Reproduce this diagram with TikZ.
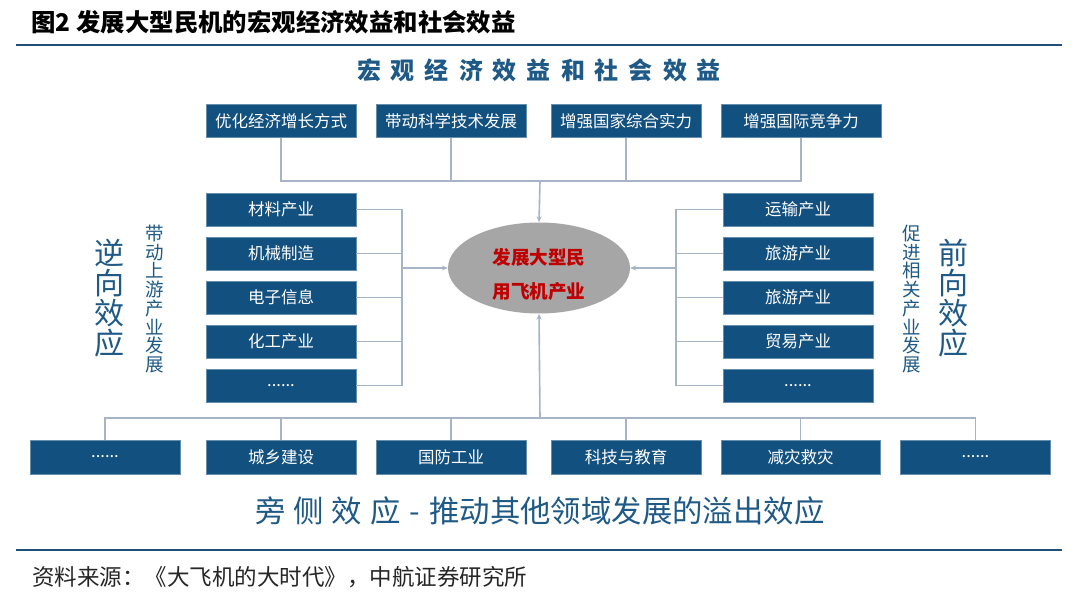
\documentclass[tikz,border=0pt]{standalone}
\usepackage{fontspec}
\usetikzlibrary{shapes.geometric,arrows.meta}
\newfontfamily\yh{Noto Sans CJK SC}
\newfontfamily\song{Noto Sans CJK SC}
\definecolor{boxblue}{HTML}{12507F}
\definecolor{txtblue}{HTML}{1F5A87}
\definecolor{conncol}{HTML}{A7B4C8}
\definecolor{rulecol}{HTML}{1F4E79}
\definecolor{ellgray}{HTML}{A6A6A6}
\definecolor{ellred}{HTML}{C00000}
\newcommand\ksp{\hspace{10pt}}
\begin{document}
\begin{tikzpicture}[x=1pt,y=-1pt,
  box/.style={fill=boxblue, draw=boxblue!65!white, line width=0.6pt, minimum height=33pt,
    minimum width=150pt, inner sep=0pt, text=white, font=\yh\fontsize{16.5}{18}\selectfont},
  link/.style={draw=conncol, line width=1.6pt},
  arr/.style={-{Stealth[length=6pt,width=5pt]}},
  vbig/.style={text=txtblue, align=center, inner sep=0pt, font=\yh\fontsize{30}{30}\selectfont},
  vsmall/.style={text=txtblue, align=center, inner sep=0pt, font=\yh\fontsize{18.5}{18.75}\selectfont},
  rulestyle/.style={draw=rulecol, line width=2pt}]
\useasboundingbox (0,0) rectangle (1080,596);
\fill[white] (0,0) rectangle (1080,596);

% title
\node[anchor=west, inner sep=0pt, font=\song\bfseries\fontsize{24.4}{26}\selectfont] (title) at (31,22) {图2\hspace{6pt}发展大型民机的宏观经济效益和社会效益};
\coordinate (ruleTL) at (16,45);
\coordinate (ruleTR) at (1062,45);
\draw[rulestyle] (ruleTL) -- (ruleTR);

% heading
\node[inner sep=0pt, text=txtblue, font=\yh\bfseries\fontsize{24}{26}\selectfont] (head) at (539,70)
  {宏\ksp 观\ksp 经\ksp 济\ksp 效\ksp 益\ksp 和\ksp 社\ksp 会\ksp 效\ksp 益};

% top boxes
\node[box] (t1) at (281,121) {优化经济增长方式};
\node[box] (t2) at (451,121) {带动科学技术发展};
\node[box] (t3) at (626,121) {增强国家综合实力};
\node[box, minimum width=160pt] (t4) at (801,121) {增强国际竞争力};

% ellipse
\node[ellipse, fill=ellgray, minimum width=182pt, minimum height=91pt, inner sep=0pt] (ell) at (539,268) {};
\node[align=center, text=ellred, inner sep=0pt, font=\yh\bfseries\fontsize{18.6}{34}\selectfont] (elltext) at (539,274) {发展大型民\\用飞机产业};

% left boxes
\node[box] (l1) at (281,209.5) {材料产业};
\node[box] (l2) at (281,253.5) {机械制造};
\node[box] (l3) at (281,297.5) {电子信息};
\node[box] (l4) at (281,341.5) {化工产业};
\node[box] (l5) at (281,385.5) {......};

% right boxes
\node[box] (r1) at (798,209.5) {运输产业};
\node[box] (r2) at (798,253.5) {旅游产业};
\node[box] (r3) at (798,297.5) {旅游产业};
\node[box] (r4) at (798,341.5) {贸易产业};
\node[box] (r5) at (798,385.5) {......};

% bottom boxes
\node[box, minimum height=34pt] (b1) at (105,457) {......};
\node[box, minimum height=34pt] (b2) at (281,457) {城乡建设};
\node[box, minimum height=34pt] (b3) at (451,457) {国防工业};
\node[box, minimum height=34pt] (b4) at (626,457) {科技与教育};
\node[box, minimum height=34pt, minimum width=159pt] (b5) at (800.5,457) {减灾救灾};
\node[box, minimum height=34pt] (b6) at (975.5,457) {......};

% vertical labels
\node[vbig] (lbig) at (109,298) {逆\\向\\效\\应};
\node[vsmall] (lsmall) at (155,299) {带\\动\\上\\游\\产\\业\\发\\展};
\node[vsmall] (rsmall) at (912,299) {促\\进\\相\\关\\产\\业\\发\\展};
\node[vbig] (rbig) at (953,298) {前\\向\\效\\应};

% connectors top
\coordinate (tj) at (540,181);
\draw[link] (t1.south) -- (t1.south |- tj) -- (t4.south |- tj) -- (t4.south);
\draw[link] (t2.south) -- (t2.south |- tj);
\draw[link] (t3.south) -- (t3.south |- tj);
\draw[link, arr] (tj) -- (ell.north);

% connectors left
\coordinate (lj) at (402,268);
\draw[link] (l1.east) -- (l1.east -| lj) -- (l5.east -| lj) -- (l5.east);
\foreach \n in {l2,l3,l4} \draw[link] (\n.east) -- (\n.east -| lj);
\draw[link, arr] (lj) -- (ell.west);

% connectors right
\coordinate (rj) at (676,268);
\draw[link] (r1.west) -- (r1.west -| rj) -- (r5.west -| rj) -- (r5.west);
\foreach \n in {r2,r3,r4} \draw[link] (\n.west) -- (\n.west -| rj);
\draw[link, arr] (rj) -- (ell.east);

% connectors bottom
\coordinate (bj) at (540,418);
\draw[link] (b1.north) -- (b1.north |- bj) -- (b6.north |- bj) -- (b6.north);
\foreach \n in {b2,b3,b4,b5} \draw[link] (\n.north) -- (\n.north |- bj);
\draw[link, arr] (bj) -- (ell.south);

% bottom heading
\node[anchor=west, inner sep=0pt, text=txtblue, font=\yh\fontsize{30.4}{32}\selectfont] (foot) at (255,511)
  {旁\hspace{8pt}侧\hspace{8pt}效\hspace{8pt}应\hspace{9pt}-\hspace{9pt}推动其他领域发展的溢出效应};

% bottom rule and source
\coordinate (ruleBL) at (16,550);
\coordinate (ruleBR) at (1062,550);
\draw[rulestyle] (ruleBL) -- (ruleBR);
\node[anchor=west, inner sep=0pt, text=black!85, font=\song\fontsize{22.5}{24}\selectfont] (src) at (32,577)
  {资料来源：《大飞机的大时代》，中航证券研究所};
\end{tikzpicture}
\end{document}
